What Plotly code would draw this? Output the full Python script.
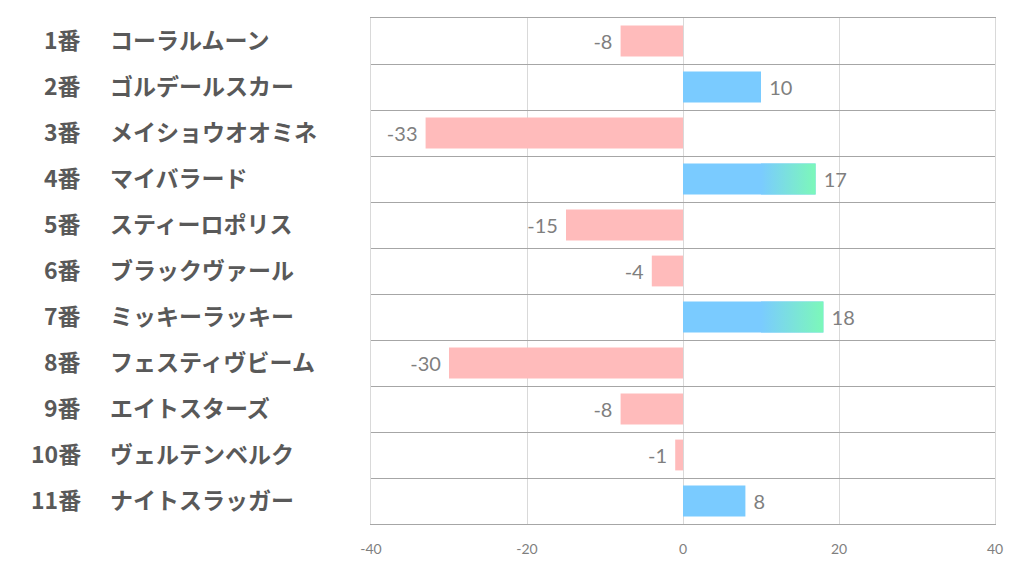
import plotly.graph_objects as go

numbers = ["1番", "2番", "3番", "4番", "5番", "6番", "7番", "8番", "9番", "10番", "11番"]
names = ["コーラルムーン", "ゴルデールスカー", "メイショウオオミネ", "マイバラード", "スティーロポリス",
         "ブラックヴァール", "ミッキーラッキー", "フェスティヴビーム", "エイトスターズ", "ヴェルテンベルク", "ナイトスラッガー"]
values = [-8, 10, -33, 17, -15, -4, 18, -30, -8, -1, 8]

x_ticks = [-40, -20, 0, 20, 40]

PINK = "#FFBBBB"
BLUE = "#7ACBFF"
GREEN = "#7CF8B9"
GRAD_START = 10
BAR_W = 0.67

W, H = 1022, 574
OFF = 8  # page body margin
L, R, T, B = 371 - OFF, 27 + OFF, 18 - OFF, 50 + OFF
plot_w = W - L - R

idx = list(range(len(values)))
colors = [BLUE if v > 0 else PINK for v in values]
labels = ["\u00a0" + str(v) if v > 0 else str(v) + "\u00a0" for v in values]

fig = go.Figure()
fig.add_trace(go.Bar(
    x=values, y=idx, orientation="h", width=BAR_W,
    marker=dict(color=colors, line=dict(width=0)),
    text=labels, texttemplate="%{text}", textposition="outside",
    textfont=dict(family="Lato, sans-serif", size=20, color="#7F7F7F"),
    cliponaxis=False, constraintext="none", hoverinfo="skip",
))

# gradient overlay for the longer positive bars
for i, v in zip(idx, values):
    if v > GRAD_START:
        y0, y1 = i - BAR_W / 2, i + BAR_W / 2
        fig.add_trace(go.Scatter(
            x=[GRAD_START, v, v, GRAD_START, GRAD_START],
            y=[y0, y0, y1, y1, y0],
            mode="lines", line=dict(width=0), fill="toself",
            fillgradient=dict(type="horizontal", colorscale=[[0, BLUE], [1, GREEN]],
                              start=GRAD_START, stop=v),
            hoverinfo="skip", showlegend=False,
        ))

# row labels
for i, (num, nm) in enumerate(zip(numbers, names)):
    fig.add_annotation(x=(83 - OFF - L) / plot_w, y=i, xref="paper", yref="y", text=f"<b>{num}</b>",
                       showarrow=False, xanchor="right", yanchor="middle", yshift=2,
                       font=dict(family="Noto Sans CJK JP", size=23, color="#595959"))
    fig.add_annotation(x=(108 - OFF - L) / plot_w, y=i, xref="paper", yref="y", text=f"<b>{nm}</b>",
                       showarrow=False, xanchor="left", yanchor="middle", yshift=2,
                       font=dict(family="Noto Sans CJK JP", size=23, color="#595959"))

fig.update_layout(
    width=W, height=H, margin=dict(l=L, r=R, t=T, b=B),
    paper_bgcolor="white", plot_bgcolor="white", showlegend=False,
    xaxis=dict(range=[-40, 40], tickvals=x_ticks, ticktext=[str(t) for t in x_ticks],
               showgrid=True, gridcolor="#D9D9D9", gridwidth=1, zeroline=False,
               showline=True, mirror=True, linecolor="#A6A6A6", linewidth=1,
               ticks="", ticklabelstandoff=12,
               tickfont=dict(family="Lato, sans-serif", size=14, color="#7F7F7F")),
    yaxis=dict(range=[len(values) - 0.5, -0.5], tickvals=[k - 0.5 for k in range(len(values) + 1)],
               showticklabels=False, showgrid=True, gridcolor="#A6A6A6", gridwidth=1,
               zeroline=False, showline=True, mirror=True, linecolor="#D9D9D9", linewidth=1,
               ticks=""),
)

fig.write_html("out.html")
